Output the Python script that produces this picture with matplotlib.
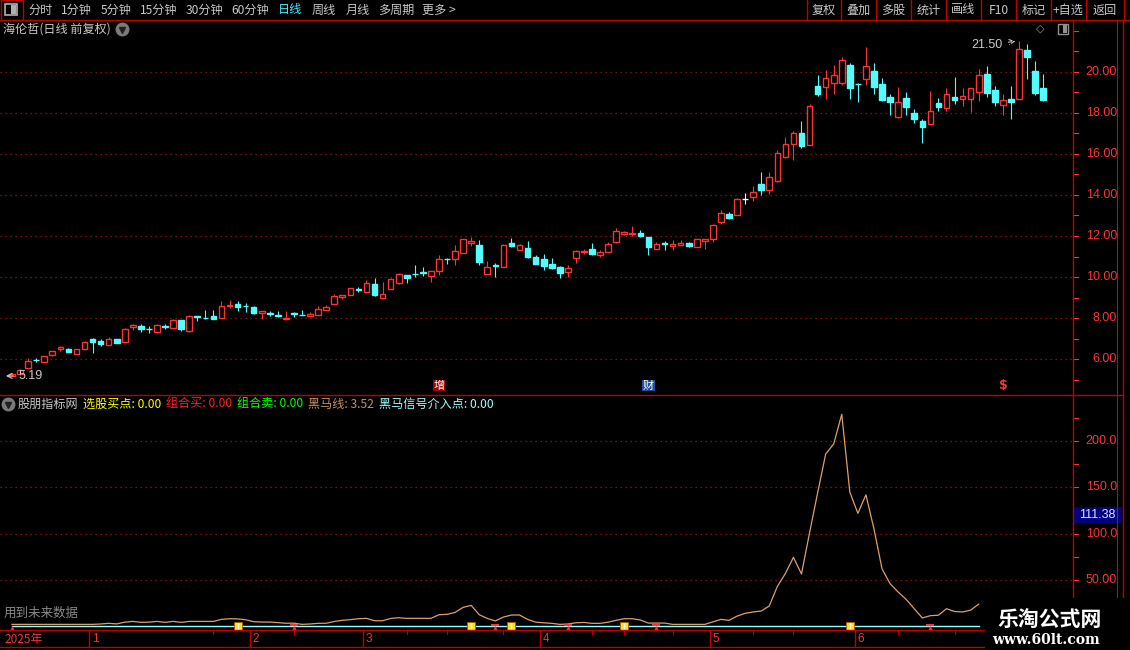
import matplotlib
matplotlib.use('Agg')
import matplotlib.pyplot as plt
from matplotlib.lines import Line2D
from matplotlib.patches import Rectangle

plt.rcParams['font.family'] = ['Noto Sans CJK SC', 'DejaVu Sans']

# ---- daily candles ----
opens = [5.20, 5.27, 5.57, 5.97, 5.87, 6.19, 6.52, 6.48, 6.26, 6.50,
         6.99, 6.88, 6.70, 6.97, 6.84, 7.57, 7.62, 7.47, 7.33, 7.60,
         7.52, 7.90, 7.38, 8.10, 8.00, 8.09, 8.01, 8.58, 8.68, 8.60,
         8.56, 8.27, 8.23, 8.14, 7.96, 8.24, 8.18, 8.12, 8.17, 8.42,
         8.69, 9.04, 9.13, 9.40, 9.29, 9.65, 9.00, 9.42, 9.72, 10.08,
         10.17, 10.24, 10.04, 10.28, 10.90, 10.87, 11.16, 11.68, 11.56, 10.13,
         10.57, 10.51, 11.66, 11.30, 11.40, 10.98, 10.87, 10.64, 10.49, 10.26,
         10.95, 11.20, 11.37, 11.10, 11.22, 11.73, 12.12, 12.12, 12.15, 11.95,
         11.38, 11.65, 11.53, 11.58, 11.66, 11.48, 11.78, 11.87, 12.67, 13.07,
         13.01, 13.82, 13.88, 14.53, 14.26, 14.69, 15.86, 16.50, 17.00, 16.45,
         19.30, 19.27, 19.47, 19.47, 20.33, 19.42, 19.63, 20.03, 19.40, 18.77,
         17.79, 18.72, 17.99, 17.60, 17.47, 18.48, 18.25, 18.77, 18.65, 18.69,
         18.99, 19.89, 19.11, 18.39, 18.67, 18.69, 21.06, 20.03, 19.20]
highs = [5.32, 5.52, 6.05, 6.06, 6.18, 6.42, 6.65, 6.57, 6.48, 6.90,
         7.02, 6.97, 7.08, 7.00, 7.50, 7.72, 7.73, 7.60, 7.72, 7.70,
         7.98, 7.90, 8.17, 8.10, 8.38, 8.38, 8.82, 8.90, 8.86, 8.76,
         8.60, 8.34, 8.33, 8.33, 8.33, 8.32, 8.38, 8.29, 8.60, 8.65,
         9.20, 9.12, 9.49, 9.52, 9.85, 9.94, 9.75, 9.98, 10.20, 10.08,
         10.59, 10.49, 10.30, 11.07, 10.92, 11.55, 11.88, 11.94, 11.80, 10.78,
         10.69, 11.60, 11.90, 11.60, 11.75, 11.10, 11.12, 10.95, 10.55, 10.60,
         11.30, 11.38, 11.66, 11.32, 11.70, 12.38, 12.26, 12.49, 12.30, 11.95,
         11.70, 11.76, 11.79, 11.80, 11.70, 11.84, 11.86, 12.58, 13.26, 13.15,
         13.85, 14.08, 14.43, 15.12, 15.10, 16.20, 16.80, 17.10, 17.60, 18.44,
         19.83, 20.06, 20.33, 20.73, 20.40, 19.47, 21.20, 20.40, 19.70, 18.90,
         19.25, 19.00, 18.20, 17.68, 19.05, 18.70, 19.20, 19.74, 19.20, 19.20,
         20.12, 20.28, 19.30, 18.92, 19.30, 21.50, 21.33, 20.50, 19.90]
lows = [5.19, 5.25, 5.57, 5.85, 5.87, 6.17, 6.40, 6.36, 6.26, 6.47,
        6.31, 6.65, 6.70, 6.80, 6.84, 7.43, 7.31, 7.28, 7.28, 7.46,
        7.52, 7.40, 7.35, 7.87, 7.96, 7.95, 8.01, 8.50, 8.35, 8.29,
        8.20, 7.98, 8.09, 8.05, 7.90, 8.06, 8.14, 8.09, 8.17, 8.42,
        8.69, 8.95, 9.13, 9.26, 9.29, 9.10, 8.95, 9.40, 9.66, 9.73,
        10.02, 10.04, 9.77, 10.12, 10.62, 10.60, 11.16, 11.51, 10.60, 10.13,
        10.02, 10.50, 11.45, 11.30, 10.95, 10.65, 10.35, 10.40, 9.98, 10.00,
        10.70, 11.12, 11.08, 10.98, 11.20, 11.68, 12.03, 12.00, 11.97, 11.10,
        11.38, 11.34, 11.34, 11.58, 11.45, 11.45, 11.38, 11.73, 12.60, 12.85,
        13.00, 13.56, 13.70, 14.00, 14.05, 14.65, 15.80, 15.70, 16.30, 16.45,
        18.83, 18.65, 18.90, 19.35, 18.65, 18.54, 19.35, 18.90, 18.55, 17.90,
        17.75, 17.90, 17.50, 16.55, 17.47, 18.10, 18.10, 18.45, 18.35, 18.05,
        18.55, 18.75, 18.35, 17.90, 17.70, 18.69, 19.65, 18.88, 18.55]
closes = [5.30, 5.49, 5.90, 5.96, 6.18, 6.42, 6.60, 6.36, 6.48, 6.83,
          6.84, 6.75, 6.97, 6.80, 7.46, 7.65, 7.46, 7.46, 7.69, 7.58,
          7.90, 7.47, 8.09, 8.08, 7.99, 7.98, 8.61, 8.62, 8.53, 8.58,
          8.27, 8.33, 8.22, 8.12, 8.03, 8.22, 8.17, 8.19, 8.47, 8.56,
          9.07, 9.12, 9.49, 9.39, 9.70, 9.13, 9.20, 9.89, 10.14, 9.97,
          10.15, 10.22, 10.28, 10.87, 10.88, 11.25, 11.84, 11.76, 10.75, 10.47,
          10.55, 11.55, 11.53, 11.55, 10.99, 10.65, 10.56, 10.46, 10.22, 10.44,
          11.27, 11.28, 11.12, 11.22, 11.61, 12.23, 12.18, 12.13, 12.00, 11.48,
          11.60, 11.63, 11.61, 11.66, 11.51, 11.84, 11.86, 12.52, 13.10, 12.89,
          13.80, 13.82, 14.13, 14.26, 14.87, 16.03, 16.46, 17.00, 16.40, 18.31,
          18.90, 19.68, 19.84, 20.55, 19.22, 19.40, 20.28, 19.27, 18.62, 18.54,
          18.52, 18.30, 17.71, 17.32, 18.09, 18.30, 18.91, 18.62, 18.82, 19.19,
          19.84, 18.98, 18.54, 18.60, 18.54, 21.09, 20.73, 18.98, 18.62]

# ---- indicator: 黑马线 ----
heima = [2.1, 2.1, 2.1, 2.1, 2.1, 2.1, 2.1, 2.1, 2.1, 2.1,
         2.1, 2.5, 3.2, 2.6, 4.5, 5.3, 4.3, 4.5, 5.3, 4.3,
         5.3, 4.3, 5.3, 5.3, 5.3, 5.3, 7.5, 8.2, 8.0, 7.1,
         5.0, 4.6, 4.6, 4.0, 3.3, 3.4, 2.1, 2.5, 3.2, 3.3,
         5.2, 6.5, 7.2, 8.2, 8.6, 6.0, 6.0, 8.5, 9.3, 8.6,
         8.6, 8.6, 8.6, 12.5, 12.9, 15.0, 20.5, 22.6, 12.5, 8.5,
         5.8, 10.0, 12.2, 12.2, 7.5, 4.5, 3.8, 3.2, 2.1, 2.5,
         3.8, 4.2, 3.2, 3.2, 4.5, 6.5, 8.2, 8.2, 6.8, 3.5,
         3.5, 3.5, 2.1, 2.1, 2.1, 2.1, 2.1, 4.8, 7.5, 6.4,
         11.0, 14.0, 15.5, 16.5, 22.0, 43.0, 57.0, 74.5, 56.5, 101.0,
         144.0, 186.0, 197.0, 229.0, 145.0, 122.0, 142.0, 105.0, 62.0, 46.0,
         37.0, 29.0, 19.0, 9.0, 11.5, 12.0, 19.0, 16.0, 15.5, 17.5,
         24.0]
# 黑马信号介入点 (flat at zero)
jieru = [0.0] * len(heima)
buy_idx = [28, 57, 62, 76, 104]        # 选股买点
sell_idx = [0, 35, 60, 69, 80, 114]    # 组合卖
month_idx = [10, 30, 44, 66, 87, 105]
month_labels = ['1', '2', '3', '4', '5', '6']
price_ticks = [6, 8, 10, 12, 14, 16, 18, 20]
ind_ticks = [50, 100, 150, 200]
ind_tick_labels = ['50.00', '100.0', '150.0', '200.0']
events = [(53, '增', '#a00000'), (79, '财', '#1d4f96')]

RED = '#ff3232'
LINE_RED = '#c00000'
CYAN = '#54fcfc'
GREY = '#c8c8c8'
NUMFONT = 'Liberation Sans'
W, H = 1130, 650


def fx(x):
    return x / W


def fy(y):
    return 1 - y / H


def fline(x0, y0, x1, y1, color=LINE_RED, lw=1.0, **kw):
    fig.add_artist(Line2D([fx(x0), fx(x1)], [fy(y0), fy(y1)],
                          transform=fig.transFigure, color=color, lw=lw, **kw))


fig = plt.figure(figsize=(11.3, 6.5), dpi=100, facecolor='black')

XL = (-12 / 8.056, (1073 - 12) / 8.056)
ax = fig.add_axes([0, fy(393), 1073 / W, 373 / H])
ax2 = fig.add_axes([0, fy(629), 1073 / W, 234 / H])
axd = fig.add_axes([0, fy(647), 1073 / W, 17 / H])
for a in (ax, ax2, axd):
    a.set_facecolor('black')
    a.set_xlim(*XL)
    a.set_xticks([])
    a.set_yticks([])
    for s in a.spines.values():
        s.set_visible(False)
ax.set_ylim(4.359, 22.517)
ax2.set_ylim(-2.9, 249.8)
axd.set_ylim(0, 1)

dotted = dict(color='#a01818', lw=0.9, linestyle=(0, (1, 3)))
for v in price_ticks:
    ax.axhline(v, **dotted)
for v in ind_ticks:
    ax2.axhline(v, **dotted)

# ---- candles ----
idx = list(range(len(opens)))
for i in idx:
    o, h, l, c = opens[i], highs[i], lows[i], closes[i]
    if c > o:
        col, face = RED, 'black'
    elif c < o:
        col, face = CYAN, CYAN
    else:
        col, face = 'white', 'white'
    ax.vlines(i, l, h, color=col, lw=0.8, zorder=2)
    ax.bar(i, abs(c - o), bottom=min(o, c), width=0.7, color=face,
           edgecolor=col, lw=1.0, zorder=3)

ax.annotate('5.19', xy=(-1.1, lows[0]), xytext=(0.85, lows[0]), color=GREY,
            fontsize=9, va='center', ha='left', family=NUMFONT,
            arrowprops=dict(arrowstyle='->', color=GREY, lw=0.8))
hi_i = highs.index(max(highs))
ax.annotate('%.2f' % max(highs), xy=(hi_i - 0.1, max(highs)),
            xytext=(hi_i - 2.0, max(highs) - 0.2), color=GREY, fontsize=9,
            va='center', ha='right', family=NUMFONT,
            arrowprops=dict(arrowstyle='->', color=GREY, lw=0.8,
                            linestyle=(0, (3, 2))))

for i, ch, bg in events:
    ax.text(i, 4.72, ch, color='white', fontsize=8, ha='center', va='center',
            bbox=dict(boxstyle='square,pad=0.05', fc=bg, ec='none'))
ax.text(123, 4.70, '$', color=RED, fontsize=9, ha='center', va='center',
        family='DejaVu Sans', fontweight='bold')

# right price axis
for v in range(5, 23):
    ax.plot([1.0, 1.005], [v, v], transform=ax.get_yaxis_transform(),
            color=RED, lw=0.8, clip_on=False)
for v in price_ticks:
    ax.text(1117 / 1073, v, '%.2f' % v, transform=ax.get_yaxis_transform(),
            color=RED, fontsize=9, ha='right', va='center', family=NUMFONT)

# ---- indicator ----
ax2.plot(range(len(heima)), heima, color='#d8a070', lw=0.9, zorder=3)
ax2.plot(range(len(jieru)), jieru, color='#90ffff', lw=1.0, zorder=2)
ax2.scatter(sell_idx, [-1.6] * len(sell_idx), marker='^', s=14, color=RED,
            zorder=4, linewidths=0)
ax2.scatter(sell_idx[1:], [1.2] * (len(sell_idx) - 1), marker='_', s=30,
            color=RED, zorder=4)
ax2.scatter(buy_idx, [0] * len(buy_idx), marker='s', s=26, color='#ffe020',
            edgecolors='#a06000', linewidths=0.6, zorder=5)
ax2.scatter(buy_idx, [0] * len(buy_idx), marker='|', s=14, color='white',
            linewidths=1.0, zorder=6)
for v in range(25, 250, 25):
    ax2.plot([1.0, 1.005], [v, v], transform=ax2.get_yaxis_transform(),
             color=RED, lw=0.8, clip_on=False)
for v, lab in zip(ind_ticks, ind_tick_labels):
    ax2.text(1117 / 1073, v, lab, transform=ax2.get_yaxis_transform(),
             color=RED, fontsize=9, ha='right', va='center', family=NUMFONT)
ax2.text(0.003, 0.04, '用到未来数据', transform=ax2.transAxes, color='#8a8a8a',
         fontsize=9, ha='left', va='bottom')

# ---- date bar ----
for i in month_idx:
    axd.axvline(i - 0.4, color=LINE_RED, lw=1.0)
for i, lab in zip(month_idx, month_labels):
    axd.text(i - 0.1, 0.45, lab, color='#ff3030', fontsize=8.5, va='center',
             ha='left', family=NUMFONT)
for i in [25, 35, 49, 54, 61, 72, 76, 82, 92, 97, 110, 117]:
    axd.plot([i, i], [0.75, 1.0], color=LINE_RED, lw=0.8)
axd.text(-0.9, 0.45, '2025年', color='#ff3030', fontsize=8.5, va='center',
         ha='left')

# ---- frame lines ----
fline(0, 19.5, W, 19.5)
fline(0, 394.5, 1123, 394.5)
fline(1073, 20, 1073, 600)
fline(1123, 20, 1123, 650)
fline(0, 630, 985, 630)
fline(0, 647, 985, 647)
fline(1117, 20, 1117, 650, color='#404040', lw=0.8)
for x in [807, 841, 876, 911, 946, 981, 1016, 1051, 1086, 1124]:
    fline(x, 0, x, 19.5)
fig.add_artist(Rectangle((fx(0.5), fy(19.5)), fx(22.5), 19 / H,
                         transform=fig.transFigure, fill=False,
                         ec=LINE_RED, lw=1.0))
fig.add_artist(Rectangle((fx(5), fy(15)), fx(12), 11 / H,
                         transform=fig.transFigure, fill=False,
                         ec='#b0b0b0', lw=1.2))
fig.add_artist(Rectangle((fx(11), fy(13.5)), fx(4.5), 8 / H,
                         transform=fig.transFigure, fc='#b0b0b0', ec='none'))

# ---- toolbar ----
left_items = [(28, '分时'), (61, '1分钟'), (101, '5分钟'), (140, '15分钟'),
              (186, '30分钟'), (231, '60分钟'), (278, '日线'), (312, '周线'),
              (346, '月线'), (378, '多周期'), (422, '更多 >')]
for x, t in left_items:
    fig.text(fx(x), fy(10), t, color='#40e8ff' if t == '日线' else GREY,
             fontsize=8.7, ha='left', va='center')
right_items = ['复权', '叠加', '多股', '统计', '画线', 'F10', '标记', '+自选', '返回']
seps = [807, 841, 876, 911, 946, 981, 1016, 1051, 1086, 1124]
for k, t in enumerate(right_items):
    fig.text(fx((seps[k] + seps[k + 1]) / 2), fy(10), t, color=GREY,
             fontsize=8.7, ha='center', va='center')

# ---- titles ----
fig.text(fx(3), fy(29), '海伦哲(日线 前复权)', color=GREY, fontsize=8.7,
         ha='left', va='center')
for cx, cy in [(122, 29), (8, 404)]:
    fig.add_artist(Line2D([fx(cx)], [fy(cy)], marker='o', ms=9,
                          color='#7a7a7a', transform=fig.transFigure))
    fig.add_artist(Line2D([fx(cx)], [fy(cy + 0.5)], marker='v', ms=4,
                          color='#202020', transform=fig.transFigure))
fig.text(fx(1040), fy(29), '◇', color='#909090', fontsize=8, ha='center',
         va='center', family='DejaVu Sans')
fig.add_artist(Rectangle((fx(1058), fy(34)), fx(10), 10 / H,
                         transform=fig.transFigure, fill=False,
                         ec='#909090', lw=1.0))
fig.add_artist(Rectangle((fx(1063), fy(33)), fx(4), 8 / H,
                         transform=fig.transFigure, fc='#909090', ec='none'))

legend_items = [(18, '股朋指标网', GREY),
                (83, '选股买点: 0.00', '#ffff00'),
                (166, '组合买: 0.00', '#ff2020'),
                (237, '组合卖: 0.00', '#00ff00'),
                (308, '黑马线: 3.52', '#c89060'),
                (379, '黑马信号介入点: 0.00', '#a0ffff')]
for x, t, c in legend_items:
    fig.text(fx(x), fy(404), t, color=c, fontsize=8.7, ha='left', va='center')

# current value box
fig.add_artist(Rectangle((fx(1073), fy(523)), fx(49), 16 / H,
                         transform=fig.transFigure, fc='#000080', ec='none'))
fig.text(fx(1097), fy(515), '111.38', color='#e0e0ff', fontsize=9,
         ha='center', va='center', family=NUMFONT)

# watermark block
fig.add_artist(Rectangle((fx(985), 0), fx(145), 52 / H,
                         transform=fig.transFigure, fc='black', ec='none',
                         zorder=10))
fig.text(fx(1050), fy(619), '乐淘公式网', color='white', fontsize=15,
         fontweight='bold', ha='center', va='center', zorder=11)
fig.text(fx(1046), fy(640), 'www.60lt.com', color='white', fontsize=10,
         fontweight='bold', ha='center', va='center', family='DejaVu Serif',
         zorder=11)

fig.savefig('out.png', dpi=100, facecolor='black')
